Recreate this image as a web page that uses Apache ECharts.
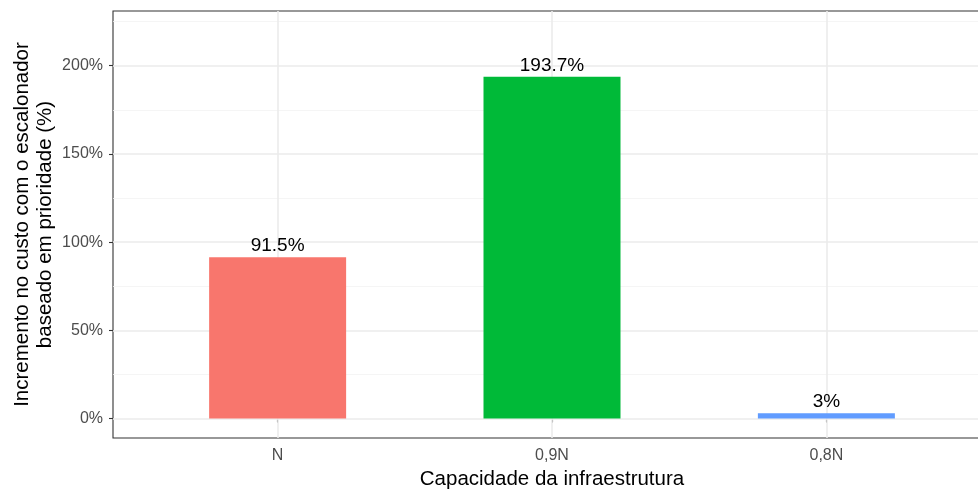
<!DOCTYPE html>
<html>
<head>
<meta charset="utf-8">
<script src="https://cdn.jsdelivr.net/npm/echarts@6/dist/echarts.min.js"></script>
<style>html,body{margin:0;padding:0;background:#fff}#c{width:978px;height:490px}</style>
</head>
<body>
<div id="c"></div>
<script>
const categories = ['N', '0,9N', '0,8N'];
const values = [91.5, 193.7, 3];
const yTicks = [0, 50, 100, 150, 200];
const yMinorTicks = [25, 75, 125, 175, 225];
const xPositions = [1, 2, 3];
const barColors = ['#F8766D', '#00BA38', '#619CFF'];

const FONT = '"Liberation Sans", Arial, Helvetica, sans-serif';
const chart = echarts.init(document.getElementById('c'), null, {renderer: 'canvas'});

const majorLines = yTicks.map(v => ({yAxis: v, lineStyle: {color: '#EBEBEB', width: 1.6, type: 'solid'}}))
  .concat(xPositions.map(v => ({xAxis: v, lineStyle: {color: '#EBEBEB', width: 1.6, type: 'solid'}})));
const minorLines = yMinorTicks.map(v => ({yAxis: v, lineStyle: {color: '#F2F2F2', width: 0.8, type: 'solid'}}));

chart.setOption({
  animation: false,
  backgroundColor: '#fff',
  textStyle: {fontFamily: FONT},
  grid: {left: 113, top: 11, right: -13, bottom: 52, show: true, borderColor: '#333', borderWidth: 1.1, backgroundColor: 'transparent', containLabel: false, outerBoundsMode: 'none'},
  xAxis: {
    type: 'value', min: 0.4, max: 3.6,
    axisLine: {show: false},
    splitLine: {show: false},
    axisTick: {show: true, customValues: xPositions, length: 4, lineStyle: {color: '#333', width: 1.1}},
    axisLabel: {customValues: xPositions, formatter: v => categories[Math.round(v) - 1], color: '#4D4D4D', fontSize: 16, margin: 10, fontFamily: FONT},
    name: 'Capacidade da infraestrutura', nameLocation: 'middle', nameGap: 31, nameMoveOverlap: false,
    nameTextStyle: {color: '#000', fontSize: 20.5, fontFamily: FONT}
  },
  yAxis: {
    type: 'value', min: -11, max: 231,
    axisLine: {show: false},
    splitLine: {show: false},
    axisTick: {show: true, customValues: yTicks, length: 4, lineStyle: {color: '#333', width: 1.1}},
    axisLabel: {customValues: yTicks, formatter: v => v + '%', color: '#4D4D4D', fontSize: 16, margin: 10, fontFamily: FONT},
    name: 'Incremento no custo com o escalonador\nbaseado em prioridade (%)', nameLocation: 'middle', nameGap: 56, nameRotate: 90, nameMoveOverlap: false,
    nameTextStyle: {color: '#000', fontSize: 20.5, lineHeight: 23, align: 'center', fontFamily: FONT}
  },
  series: [{
    type: 'bar',
    z: 2,
    barWidth: 137,
    data: values.map((v, i) => ({value: [xPositions[i], v], itemStyle: {color: barColors[i]}})),
    label: {show: true, position: 'top', distance: 2, color: '#000', fontSize: 19, fontFamily: FONT, formatter: p => p.value[1] + '%'},
    markLine: {
      z: 1, silent: true, symbol: 'none', label: {show: false}, animation: false,
      emphasis: {disabled: true},
      data: minorLines.concat(majorLines)
    }
  }]
});
</script>
</body>
</html>
